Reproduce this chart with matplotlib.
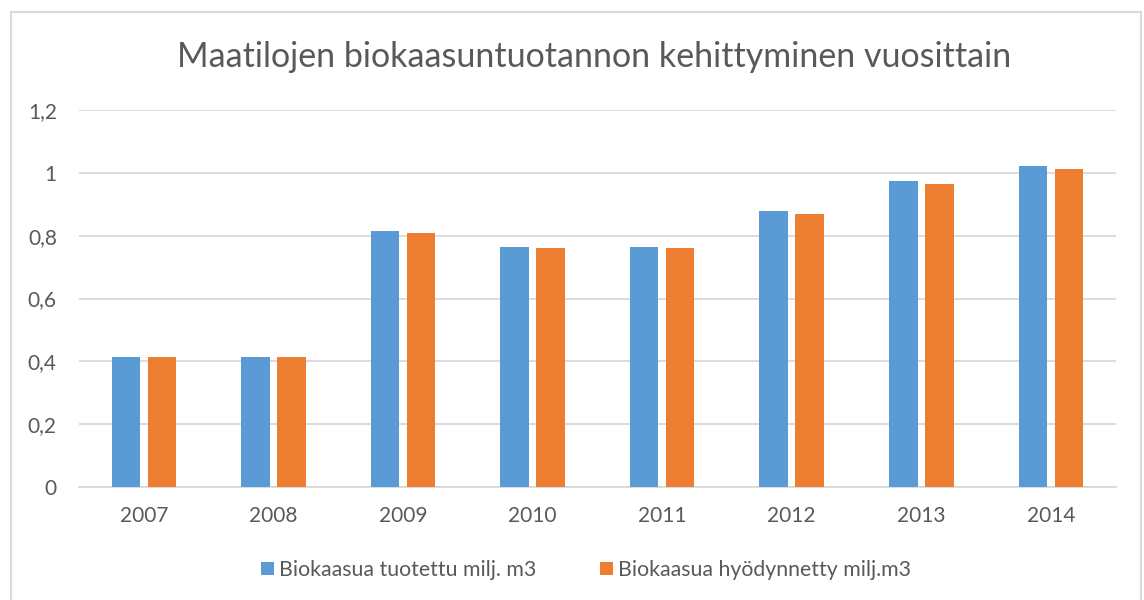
import matplotlib
matplotlib.use('Agg')
import matplotlib.pyplot as plt
from matplotlib.patches import Rectangle
from matplotlib.ticker import FuncFormatter
import numpy as np

plt.rcParams['font.family'] = ['Lato', 'DejaVu Sans']

years = ['2007', '2008', '2009', '2010', '2011', '2012', '2013', '2014']
tuotettu = [0.414, 0.414, 0.814, 0.765, 0.765, 0.878, 0.974, 1.021]
hyodynnetty = [0.414, 0.414, 0.810, 0.761, 0.761, 0.870, 0.966, 1.013]

blue = '#5B9BD5'
orange = '#ED7D31'
text_col = '#595959'
grid_col = '#D9D9D9'

fig = plt.figure(figsize=(11.44, 6.0), dpi=100)
ax = fig.add_axes([79 / 1144, 1 - 487 / 600, (1115.7 - 79) / 1144, (487 - 110) / 600])

x = np.arange(len(years))
w = 0.22
ax.bar(x - 0.139, tuotettu, w, color=blue, label='Biokaasua tuotettu milj. m3', zorder=3)
ax.bar(x + 0.139, hyodynnetty, w, color=orange, label='Biokaasua hyödynnetty milj.m3', zorder=3)

ax.set_xlim(-0.5, len(years) - 0.5)
ax.set_ylim(0, 1.2)
ax.set_yticks(np.arange(0, 1.21, 0.2))
ax.yaxis.set_major_formatter(FuncFormatter(lambda v, p: ('%g' % round(v, 1)).replace('.', ',')))
ax.set_xticks(x)
ax.set_xticklabels(years)
ax.grid(axis='y', color=grid_col, linewidth=1.3, zorder=0)
for s in ['top', 'right', 'left']:
    ax.spines[s].set_visible(False)
ax.spines['bottom'].set_color(grid_col)
ax.spines['bottom'].set_linewidth(1.3)
ax.tick_params(length=0, colors=text_col, labelsize=15)
ax.tick_params(axis='y', pad=16)
ax.tick_params(axis='x', pad=14)

fig.text(594 / 1144, 1 - 57 / 600, 'Maatilojen biokaasuntuotannon kehittyminen vuosittain',
         ha='center', va='center', fontsize=24.5, color=text_col)

leg = fig.legend(loc='center', bbox_to_anchor=(586 / 1144, 1 - 570 / 600), ncol=2, frameon=False,
                 fontsize=15.3, handlelength=0.6, handleheight=0.6, handletextpad=0.25,
                 columnspacing=3.0)
for t in leg.get_texts():
    t.set_color(text_col)

fig.patches.append(Rectangle((11 / 1144, -0.01), (1141 - 11) / 1144, 1 - 12 / 600 + 0.01,
                             transform=fig.transFigure, fill=False, edgecolor='#D9D9D9',
                             linewidth=1.5))

fig.savefig('out.png', dpi=100)
